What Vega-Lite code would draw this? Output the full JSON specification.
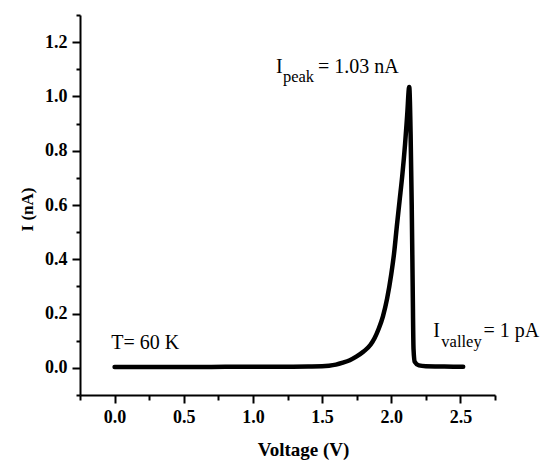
{
  "$schema": "https://vega.github.io/schema/vega-lite/v6.json",
  "width": 415,
  "height": 380,
  "autosize": {"type": "none"},
  "padding": {"left": 80, "top": 15, "right": 45, "bottom": 65},
  "background": "white",
  "config": {
    "view": {"stroke": null},
    "font": "Liberation Serif",
    "axis": {
      "grid": false,
      "domainColor": "black",
      "domainWidth": 2,
      "tickColor": "black",
      "tickWidth": 2,
      "labelColor": "black",
      "labelFont": "Liberation Serif",
      "labelFontSize": 18,
      "labelFontWeight": "bold",
      "titleColor": "black",
      "titleFont": "Liberation Serif",
      "titleFontWeight": "bold",
      "labelOverlap": false,
      "labelFlush": false
    }
  },
  "datasets": {
    "curve": [
      {"V": 0.0, "I": 0.003}, {"V": 0.2, "I": 0.003}, {"V": 0.4, "I": 0.003},
      {"V": 0.6, "I": 0.003}, {"V": 0.8, "I": 0.004}, {"V": 1.0, "I": 0.004},
      {"V": 1.2, "I": 0.004}, {"V": 1.4, "I": 0.005}, {"V": 1.5, "I": 0.006},
      {"V": 1.55, "I": 0.008}, {"V": 1.6, "I": 0.012}, {"V": 1.65, "I": 0.019},
      {"V": 1.7, "I": 0.028}, {"V": 1.75, "I": 0.042}, {"V": 1.8, "I": 0.06},
      {"V": 1.85, "I": 0.085}, {"V": 1.88, "I": 0.11}, {"V": 1.91, "I": 0.145},
      {"V": 1.94, "I": 0.19}, {"V": 1.97, "I": 0.255}, {"V": 2.0, "I": 0.345},
      {"V": 2.02, "I": 0.42}, {"V": 2.04, "I": 0.52}, {"V": 2.06, "I": 0.615},
      {"V": 2.08, "I": 0.71}, {"V": 2.1, "I": 0.825}, {"V": 2.115, "I": 0.93},
      {"V": 2.13, "I": 1.035}, {"V": 2.14, "I": 0.86}, {"V": 2.148, "I": 0.6},
      {"V": 2.155, "I": 0.3}, {"V": 2.161, "I": 0.07}, {"V": 2.17, "I": 0.022},
      {"V": 2.2, "I": 0.009}, {"V": 2.25, "I": 0.006}, {"V": 2.35, "I": 0.005},
      {"V": 2.45, "I": 0.004}, {"V": 2.52, "I": 0.004}
    ],
    "labels": [
      {"V": -0.024, "I": 0.07, "text": "T= 60 K"},
      {"V": 1.167, "I": 1.087, "text": "I"},
      {"V": 1.471, "I": 1.087, "text": "= 1.03 nA"},
      {"V": 2.304, "I": 0.114, "text": "I"},
      {"V": 2.667, "I": 0.114, "text": "= 1 pA"}
    ],
    "subs": [
      {"V": 1.217, "I": 1.053, "text": "peak"},
      {"V": 2.362, "I": 0.077, "text": "valley"}
    ]
  },
  "resolve": {"axis": {"x": "independent", "y": "independent"}},
  "layer": [
    {
      "data": {"name": "curve"},
      "mark": {"type": "line", "color": "black", "strokeWidth": 4.5, "strokeCap": "round", "strokeJoin": "round", "interpolate": "monotone"},
      "encoding": {
        "x": {
          "field": "V", "type": "quantitative",
          "scale": {"domain": [-0.25, 2.75], "nice": false, "zero": false},
          "axis": {
            "orient": "bottom",
            "title": "Voltage (V)",
            "titleFontSize": 19,
            "titleX": 223,
            "titleY": 60,
            "titleBaseline": "alphabetic",
            "values": [0, 0.5, 1, 1.5, 2, 2.5],
            "format": ".1f",
            "tickSize": 8,
            "labelPadding": 5
          }
        },
        "y": {
          "field": "I", "type": "quantitative",
          "scale": {"domain": [-0.1, 1.3], "nice": false, "zero": false},
          "axis": {
            "orient": "left",
            "title": "I (nA)",
            "titleFontSize": 17,
            "titleX": -53,
            "titleY": 194,
            "titleAngle": 270,
            "titleAlign": "center",
            "titleBaseline": "middle",
            "values": [0, 0.2, 0.4, 0.6, 0.8, 1.0, 1.2],
            "format": ".1f",
            "tickSize": 8,
            "labelPadding": 5
          }
        }
      }
    },
    {
      "data": {"name": "labels"},
      "mark": {"type": "text", "align": "left", "baseline": "alphabetic", "font": "Liberation Serif", "fontSize": 20, "color": "black"},
      "encoding": {
        "x": {"field": "V", "type": "quantitative",
          "axis": {"orient": "bottom", "values": [-0.25, 0.25, 0.75, 1.25, 1.75, 2.25, 2.75], "labels": false, "domain": false, "title": null, "tickSize": 5}},
        "y": {"field": "I", "type": "quantitative",
          "axis": {"orient": "left", "values": [-0.1, 0.1, 0.3, 0.5, 0.7, 0.9, 1.1, 1.3], "labels": false, "domain": false, "title": null, "tickSize": 4}},
        "text": {"field": "text"}
      }
    },
    {
      "data": {"name": "subs"},
      "mark": {"type": "text", "align": "left", "baseline": "alphabetic", "font": "Liberation Serif", "fontSize": 16.5, "color": "black"},
      "encoding": {
        "x": {"field": "V", "type": "quantitative", "axis": null},
        "y": {"field": "I", "type": "quantitative", "axis": null},
        "text": {"field": "text"}
      }
    }
  ]
}
